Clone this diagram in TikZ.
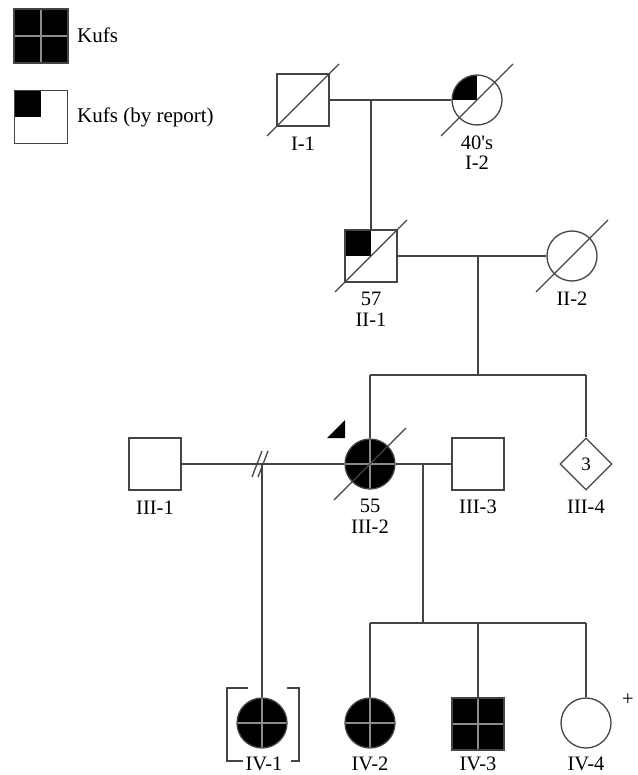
\documentclass[tikz,border=0pt]{standalone}
\usepackage{fontspec}
\setmainfont{Liberation Serif}
\usetikzlibrary{calc,positioning,shapes.geometric}
\definecolor{PedLine}{HTML}{444444}
\definecolor{PedCross}{HTML}{8C8C8C}

\begin{document}
\begin{tikzpicture}[
  x=1pt,y=-1pt,
  ind/.style={draw=PedLine,line width=1.3pt,inner sep=0pt,fill=white},
  male/.style={ind,rectangle,minimum size=52pt},
  female/.style={ind,circle,minimum size=50pt},
  unknown/.style={ind,diamond,minimum size=52pt,
    font=\fontsize{19}{21}\selectfont},
  kufs/.style={fill=black,path picture={
    \draw[PedCross,line width=1.1pt]
      (path picture bounding box.north) -- (path picture bounding box.south)
      (path picture bounding box.west) -- (path picture bounding box.east);}},
  report/.style={path picture={
    \fill[black] (path picture bounding box.north west)
      rectangle (path picture bounding box.center);}},
  tie/.style={draw=PedLine,line width=1.3pt},
  slash/.style={draw=PedLine,line width=1.3pt},
  tag/.style={font=\fontsize{20.5}{22}\selectfont,inner sep=0pt},
  legendtext/.style={font=\fontsize{21}{23}\selectfont,inner sep=0pt,anchor=west}
]

\newcommand{\pedgone}[1]{\draw[slash] ($(#1)+(-36,36)$) -- ($(#1)+(36,-36)$);}

\useasboundingbox (0,0) rectangle (637,775);

% legend
\node[male,kufs,minimum size=54pt] (key1) at (41,36) {};
\node[legendtext] (key1t) at (77,35) {Kufs};
\node[male,report,minimum size=53pt] (key2) at (41,117) {};
\node[legendtext] (key2t) at (77,117) {Kufs (by report)};

% generation I
\node[male] (i1) at (303,100) {};
\node[female,report] (i2) at (477,100) {};
\pedgone{i1}
\pedgone{i2}
\draw[tie] (i1.east) -- (i2.west);
\coordinate (m1) at (371,100);
\node[tag] (l-i1) at (303,144) {I-1};
\node[tag] (a-i2) at (477,143) {40\textquotesingle s};
\node[tag] (l-i2) at (477,163) {I-2};

% generation II
\node[male,report] (ii1) at (371,256) {};
\node[female] (ii2) at (572,256) {};
\draw[tie] (m1) -- (ii1.north);
\pedgone{ii1}
\pedgone{ii2}
\draw[tie] (ii1.east) -- (ii2.west);
\coordinate (m2) at (478,256);
\coordinate (s3) at (478,375);
\draw[tie] (m2) -- (s3);
\node[tag] (a-ii1) at (371,299) {57};
\node[tag] (l-ii1) at (371,320) {II-1};
\node[tag] (l-ii2) at (572,299) {II-2};

% generation III
\node[male] (iii1) at (155,464) {};
\node[female,kufs] (iii2) at (370,464) {};
\node[male] (iii3) at (478,464) {};
\node[unknown] (iii4) at (586,464) {3};
\pedgone{iii2}
\coordinate (s3a) at (370,375);
\coordinate (s3b) at (586,375);
\draw[tie] (s3a) -- (s3b);
\draw[tie] (s3a) -- (iii2.north);
\draw[tie] (s3b) -- (iii4.north);
\fill[black] (327,438) -- (345,438) -- (345,420) -- cycle;
\draw[tie] (iii1.east) -- (iii2.west);
\draw[tie] (iii2.east) -- (iii3.west);
\coordinate (m3) at (262,464);
\draw[slash] ($(m3)+(-10,13)$) -- ($(m3)+(0,-13)$);
\draw[slash] ($(m3)+(-4,13)$) -- ($(m3)+(6,-13)$);
\coordinate (m4) at (423,464);
\node[tag] (l-iii1) at (155,508) {III-1};
\node[tag] (a-iii2) at (370,506) {55};
\node[tag] (l-iii2) at (370,527) {III-2};
\node[tag] (l-iii3) at (478,507) {III-3};
\node[tag] (l-iii4) at (586,507) {III-4};

% generation IV
\node[female,kufs] (iv1) at (262,723) {};
\node[female,kufs] (iv2) at (370,723) {};
\node[male,kufs] (iv3) at (478,724) {};
\node[female] (iv4) at (586,723) {};
\draw[tie] (m3) -- (iv1.north);
\coordinate (s4) at (423,623);
\coordinate (s4a) at (370,623);
\coordinate (s4b) at (586,623);
\draw[tie] (m4) -- (s4);
\draw[tie] (s4a) -- (s4b);
\draw[tie] (s4a) -- (iv2.north);
\draw[tie] (s4a -| iv3) -- (iv3.north);
\draw[tie] (s4b) -- (iv4.north);
\draw[tie] (248,688) -- (227,688) -- (227,761) -- (243,761);
\draw[tie] (287,688) -- (299,688) -- (299,761) -- (291,761);
\node[tag] (plus) at (628,700) {+};
\node[tag] (l-iv1) at (264,764) {IV-1};
\node[tag] (l-iv2) at (370,764) {IV-2};
\node[tag] (l-iv3) at (478,764) {IV-3};
\node[tag] (l-iv4) at (586,764) {IV-4};

\end{tikzpicture}
\end{document}
